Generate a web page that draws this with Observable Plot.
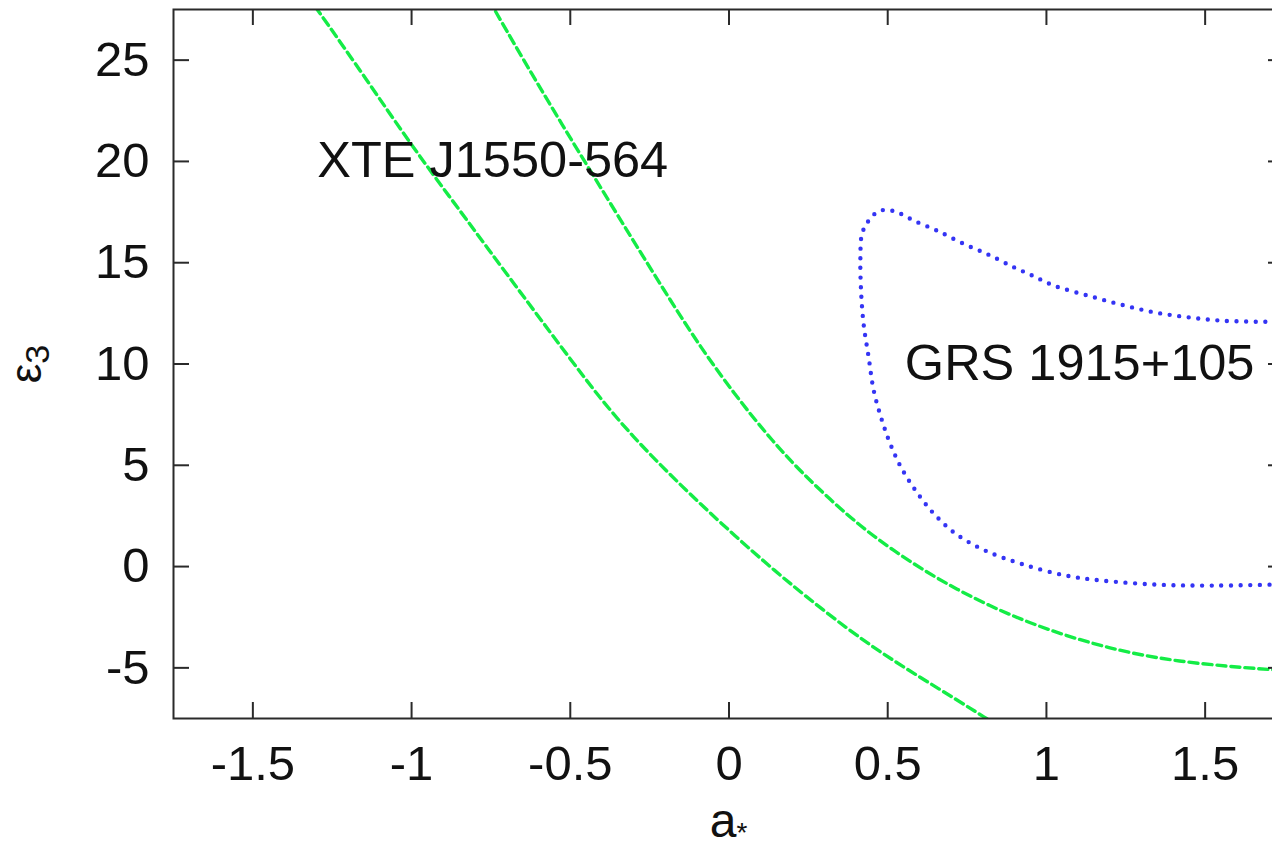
<!DOCTYPE html>
<html><head><meta charset="utf-8">
<script src="https://cdn.jsdelivr.net/npm/d3@7"></script>
<script src="https://cdn.jsdelivr.net/npm/@observablehq/plot@0.6"></script>
<style>html,body{margin:0;padding:0;background:#fff;overflow:hidden;}</style>
</head><body><div id="chart"></div>
<script>
// Axis ticks
const xTicks = [-1.5, -1, -0.5, 0, 0.5, 1, 1.5];
const yTicks = [-5, 0, 5, 10, 15, 20, 25];

// XTE J1550-564, lower-left branch (green dashed)
const xteLowA = [-1.330, -1.294, -1.140, -1.005, -0.880, -0.762, -0.627, -0.500, -0.406, -0.302, -0.195, -0.091, 0.020, 0.130, 0.240, 0.375, 0.484, 0.600, 0.715, 0.813, 0.850];
const xteLowE = [28.2, 27.44, 24.0, 20.9, 18.25, 15.75, 12.90, 10.25, 8.30, 6.40, 4.68, 3.10, 1.50, -0.02, -1.45, -3.10, -4.30, -5.45, -6.55, -7.52, -7.88];

// XTE J1550-564, upper-right branch (green dashed)
const xteHighA = [-0.757, -0.737, -0.617, -0.523, -0.447, -0.302, -0.195, -0.091, 0.018, 0.120, 0.224, 0.370, 0.508, 0.715, 0.945, 1.176, 1.406, 1.715, 1.750];
const xteHighE = [28.0, 27.44, 24.20, 21.75, 19.80, 16.10, 13.40, 10.85, 8.50, 6.50, 4.70, 2.55, 0.85, -1.18, -2.83, -3.98, -4.72, -5.10, -5.13];

// GRS 1915+105 contour (blue dotted)
const grsA = [1.750, 1.715, 1.656, 1.551, 1.445, 1.340, 1.235, 1.130, 1.024, 0.951, 0.898, 0.824, 0.740, 0.656, 0.582, 0.530, 0.493, 0.466, 0.440, 0.419, 0.414, 0.416, 0.424, 0.440, 0.456, 0.482, 0.508, 0.542, 0.588, 0.646, 0.715, 0.807, 0.922, 1.060, 1.176, 1.349, 1.520, 1.715, 1.750];
const grsE = [12.08, 12.09, 12.09, 12.14, 12.31, 12.55, 12.93, 13.38, 13.87, 14.40, 14.77, 15.35, 15.93, 16.58, 17.08, 17.49, 17.61, 17.49, 17.08, 16.42, 15.27, 13.62, 11.98, 10.33, 8.69, 7.21, 6.06, 4.90, 3.75, 2.60, 1.61, 0.79, 0.13, -0.44, -0.69, -0.89, -0.94, -0.89, -0.88];

// Annotations
const labelText = ["XTE J1550-564", "GRS 1915+105"];
const labelA = [-1.297, 0.554];
const labelE = [19.21, 9.19];

const toRows = (name, A, E) => A.map((a, i) => ({series: name, a, e: E[i]}));
const greenRows = [...toRows("low", xteLowA, xteLowE), ...toRows("high", xteHighA, xteHighE)];
const blueRows = toRows("grs", grsA, grsE);
const labels = labelText.map((t, i) => ({t, a: labelA[i], e: labelE[i]}));

const W = 1300, H = 849;
const mL = 173, mR = 16, mT = 9, mB = 131;
const fw = W - mL - mR, fh = H - mT - mB;
const tickLen = 16;
const axisColor = "#2a2a2a";

const plot = Plot.plot({
  width: W, height: H,
  marginLeft: mL, marginRight: mR, marginTop: mT, marginBottom: mB,
  style: {fontFamily: "'Liberation Sans', Arial, sans-serif", fontSize: "49px", background: "white", maxWidth: "none", overflow: "hidden"},
  x: {domain: [-1.75, 1.75]},
  y: {domain: [-7.5, 27.5]},
  marks: [
    Plot.line(greenRows, {x: "a", y: "e", z: "series", stroke: "#14ec46", strokeWidth: 3.4, strokeDasharray: "9,5", curve: "basis", clip: true}),
    Plot.line(blueRows, {x: "a", y: "e", stroke: "#3434f4", strokeWidth: 4.4, strokeDasharray: "0,9.6", strokeLinecap: "round", curve: "catmull-rom", clip: true}),
    Plot.text(labels, {x: "a", y: "e", text: "t", textAnchor: "start", lineAnchor: "bottom", fontSize: 50.5, fill: "#111"}),
    Plot.tickY(yTicks, {y: d => d, insetRight: fw - tickLen, stroke: axisColor, strokeWidth: 2}),
    Plot.tickY(yTicks, {y: d => d, insetLeft: fw - tickLen, stroke: axisColor, strokeWidth: 2}),
    Plot.tickX(xTicks, {x: d => d, insetTop: fh - tickLen, stroke: axisColor, strokeWidth: 2}),
    Plot.tickX(xTicks, {x: d => d, insetBottom: fh - tickLen, stroke: axisColor, strokeWidth: 2}),
    Plot.axisX(xTicks, {anchor: "bottom", tickSize: 0, tickPadding: 27, tickFormat: d => String(d), label: null, fontSize: 49, fill: "#111"}),
    Plot.axisY(yTicks, {anchor: "left", tickSize: 0, tickPadding: 24, tickFormat: d => String(d), label: null, fontSize: 49, fill: "#111"}),
    Plot.frame({stroke: axisColor, strokeWidth: 2})
  ]
});

const svg = d3.select(plot);
// x-axis title: a with subscript star
const xt = svg.append("text")
  .attr("x", mL + fw / 2).attr("y", 837)
  .attr("text-anchor", "middle").attr("font-size", 48).attr("fill", "#111");
xt.append("tspan").text("a");
xt.append("tspan").attr("font-size", 28).attr("dy", 5).text("*");
// y-axis title: epsilon with subscript 3, rotated
const yt = svg.append("text")
  .attr("transform", "translate(41,364) rotate(-90)")
  .attr("text-anchor", "middle").attr("font-size", 44).attr("fill", "#111");
yt.append("tspan").text("ε");
yt.append("tspan").attr("font-size", 34).attr("dy", 8).text("3");

document.getElementById("chart").appendChild(plot);
</script>
</body></html>
